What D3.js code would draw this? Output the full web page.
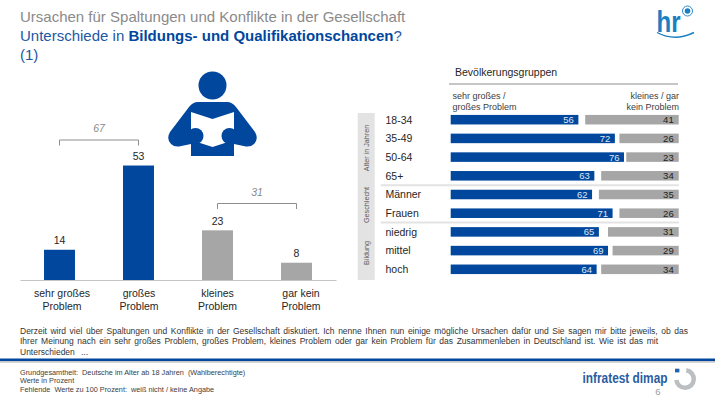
<!DOCTYPE html>
<html lang="de">
<head>
<meta charset="utf-8">
<title>Unterschiede in Bildungs- und Qualifikationschancen</title>
<script src="https://d3js.org/d3.v7.min.js"></script>
<style>
  html, body { margin: 0; padding: 0; background: #fff; }
  svg { display: block; }
  text { font-family: "Liberation Sans", Arial, sans-serif; }
</style>
</head>
<body>
<svg id="chart" width="715" height="403"></svg>
<script>
// Overall answers
const answerCategories = [["sehr großes", "Problem"], ["großes", "Problem"], ["kleines", "Problem"], ["gar kein", "Problem"]];
const answerValues = [14, 53, 23, 8];
const answerColors = ["#00479d", "#00479d", "#a6a6a6", "#a6a6a6"];

// Summed answers shown above the brackets
const bracketTotals = [67, 31];

// Population groups
const groupLabels = ["18-34", "35-49", "50-64", "65+", "Männer", "Frauen", "niedrig", "mittel", "hoch"];
const bigProblemValues = [56, 72, 76, 63, 62, 71, 65, 69, 64];
const smallProblemValues = [41, 26, 23, 34, 35, 26, 31, 29, 34];
const sideSections = [
  { label: "Alter in Jahren", first: 0, last: 3 },
  { label: "Geschlecht", first: 4, last: 5 },
  { label: "Bildung", first: 6, last: 8 }
];

const BLUE = "#00479d", GREY = "#a6a6a6", TITLE_GREY = "#8a8a8a", TEXT = "#262626";
const svg = d3.select("#chart");

// Heading
const heading = svg.append("g");
heading.append("text").attr("x", 20).attr("y", 21.5).attr("font-size", 15).attr("fill", TITLE_GREY)
  .text("Ursachen für Spaltungen und Konflikte in der Gesellschaft");
const subline = heading.append("text").attr("x", 20).attr("y", 41).attr("font-size", 15).attr("fill", "#1d58a4");
subline.append("tspan").text("Unterschiede in ");
subline.append("tspan").attr("font-weight", "bold").attr("fill", BLUE).text("Bildungs- und Qualifikationschancen");
subline.append("tspan").text("?");
heading.append("text").attr("x", 20).attr("y", 60).attr("font-size", 15).attr("fill", "#1d58a4").text("(1)");

// hr logo
const hr = svg.append("g").attr("fill", "#1b7fc3");
hr.append("text").attr("x", 656.5).attr("y", 32).attr("font-size", 30).attr("font-family", "Open Sans")
  .attr("font-weight", 600).attr("textLength", 24).attr("lengthAdjust", "spacingAndGlyphs").text("hr");
hr.append("path").attr("d", "M657,32.5 Q675,42 694,32.5").attr("fill", "none").attr("stroke", "#1b7fc3").attr("stroke-width", 1.4);
hr.append("circle").attr("cx", 687.5).attr("cy", 11).attr("r", 5).attr("fill", "none").attr("stroke", "#1b7fc3").attr("stroke-width", 0.9);
hr.append("circle").attr("cx", 687.5).attr("cy", 11).attr("r", 2.8);

// Reading figure
const reader = svg.append("g");
reader.append("circle").attr("cx", 212.5).attr("cy", 85.5).attr("r", 14).attr("fill", BLUE);
reader.append("path").attr("fill", BLUE)
  .attr("d", "M198,102 L227,102 Q232,102 236,107 L255,132 Q259,139 254,144 Q251,147 246,146.5 L234,144 L234,156 L191,156 L191,144 L179,146.5 Q174,147 171,144 Q166,139 170,132 L189,107 Q193,102 198,102Z");
reader.append("path").attr("fill", "#fff")
  .attr("d", "M191,112 L212.5,119 L234,112 L234,132 L228,142 L212.5,147 L197,142 L191,132Z");
reader.append("circle").attr("cx", 195.5).attr("cy", 136).attr("r", 8).attr("fill", BLUE);
reader.append("circle").attr("cx", 229.5).attr("cy", 136).attr("r", 8).attr("fill", BLUE);

// Left column chart
const xAnswer = d3.scaleBand().domain(d3.range(answerValues.length)).range([20, 336])
  .paddingInner(0.608).paddingOuter(0.304);
const yAnswer = d3.scaleLinear().domain([0, 60]).range([280, 150.4]);

const columns = svg.append("g");
columns.selectAll("rect").data(answerValues).join("rect")
  .attr("x", (d, i) => xAnswer(i))
  .attr("y", d => yAnswer(d))
  .attr("width", xAnswer.bandwidth())
  .attr("height", d => yAnswer(0) - yAnswer(d))
  .attr("fill", (d, i) => answerColors[i]);
columns.selectAll("text").data(answerValues).join("text")
  .attr("x", (d, i) => xAnswer(i) + xAnswer.bandwidth() / 2)
  .attr("y", d => yAnswer(d) - 5.5)
  .attr("text-anchor", "middle").attr("font-size", 10.5).attr("fill", TEXT)
  .text(d => d);

// Category labels sit slightly off the column centres
const labelShift = [2.5, 0.5, 0, 4.5];
const axis = svg.append("g").attr("transform", "translate(0,280)")
  .call(d3.axisBottom(xAnswer).tickSize(0).tickPadding(0).tickFormat(""));
axis.select(".domain").attr("stroke", "#c4c4c4").attr("stroke-width", 1.2);
axis.selectAll(".tick text").each(function (i) {
  const label = d3.select(this).attr("y", 0).attr("dy", 0).attr("font-size", 10.5).attr("fill", TEXT)
    .attr("font-family", "Liberation Sans");
  answerCategories[i].forEach((line, k) => {
    label.append("tspan").attr("x", labelShift[i]).attr("y", 17 + k * 13).text(line);
  });
});

// Brackets summing two columns
const bracketPairs = [[0, 1], [2, 3]];
const bracketY = [140, 203.5];
const bracketLabelY = [131.5, 195.5];
bracketPairs.forEach((pair, k) => {
  const x0 = xAnswer(pair[0]) + xAnswer.bandwidth() / 2;
  const x1 = xAnswer(pair[1]) + xAnswer.bandwidth() / 2;
  const p = d3.path();
  p.moveTo(x0, bracketY[k] + 5.5);
  p.lineTo(x0, bracketY[k]);
  p.lineTo(x1, bracketY[k]);
  p.lineTo(x1, bracketY[k] + 5.5);
  svg.append("path").attr("d", p.toString()).attr("fill", "none").attr("stroke", "#8e8e8e").attr("stroke-width", 1);
  svg.append("text").attr("x", (x0 + x1) / 2).attr("y", bracketLabelY[k]).attr("text-anchor", "middle")
    .attr("font-size", 10.5).attr("font-style", "italic").attr("fill", "#8a8a8a").text(bracketTotals[k]);
});

// Right panel: population groups
const xShare = d3.scaleLinear().domain([0, 100]).range([0, 228]);
const yGroup = d3.scaleBand().domain(groupLabels).range([110.35, 278.65]).paddingInner(0.49).paddingOuter(0.245);
const barLeft = 450.7, barRight = 678.7;

svg.append("text").attr("x", 455).attr("y", 75.5).attr("font-size", 10.5).attr("fill", TEXT).text("Bevölkerungsgruppen");
svg.append("line").attr("x1", 449).attr("x2", 678).attr("y1", 84).attr("y2", 84).attr("stroke", "#b3b3b3").attr("stroke-width", 1.6);

const headLeft = svg.append("text").attr("font-size", 9).attr("fill", "#404040");
["sehr großes /", "großes Problem"].forEach((t, i) => headLeft.append("tspan").attr("x", 452.5).attr("y", 99 + i * 10.5).text(t));
const headRight = svg.append("text").attr("font-size", 9).attr("fill", "#404040").attr("text-anchor", "end");
["kleines / gar", "kein Problem"].forEach((t, i) => headRight.append("tspan").attr("x", 679).attr("y", 99 + i * 10.5).text(t));

// Side panel and dividers between sections
const sideTop = 113, sideBottom = 280;
svg.append("rect").attr("x", 357.7).attr("y", sideTop).attr("width", 17).attr("height", sideBottom - sideTop).attr("fill", "#e3e3e3");
const sideCenters = [148, 205, 253];
sideSections.forEach((s, i) => {
  svg.append("text")
    .attr("transform", `translate(369,${sideCenters[i]}) rotate(-90)`)
    .attr("text-anchor", "middle").attr("font-size", 7.2).attr("fill", "#595959").text(s.label);
  if (i > 0) {
    const y = yGroup(groupLabels[s.first]) - yGroup.step() * 0.245;
    svg.append("line").attr("x1", 380.7).attr("x2", 679).attr("y1", y).attr("y2", y).attr("stroke", "#e3e3e3").attr("stroke-width", 2);
  }
});

const rows = svg.append("g").selectAll("g").data(groupLabels).join("g")
  .attr("transform", d => `translate(0,${yGroup(d)})`);
const h = yGroup.bandwidth();
rows.append("text").attr("x", 385.5).attr("y", h / 2 + 3.8).attr("font-size", 10.5).attr("fill", TEXT).text(d => d);
rows.append("rect").attr("x", barLeft).attr("y", 0).attr("height", h)
  .attr("width", (d, i) => xShare(bigProblemValues[i])).attr("fill", BLUE);
rows.append("rect").attr("y", 0).attr("height", h)
  .attr("x", (d, i) => barRight - xShare(smallProblemValues[i]))
  .attr("width", (d, i) => xShare(smallProblemValues[i])).attr("fill", GREY);
rows.append("text").attr("x", (d, i) => barLeft + xShare(bigProblemValues[i]) - 4.5)
  .attr("y", h / 2 + 3.4).attr("text-anchor", "end").attr("font-size", 9.5).attr("fill", "#dfe8f4")
  .text((d, i) => bigProblemValues[i]);
rows.append("text").attr("x", barRight - 5)
  .attr("y", h / 2 + 3.4).attr("text-anchor", "end").attr("font-size", 9.5).attr("fill", "#222")
  .text((d, i) => smallProblemValues[i]);

// Question wording, each justified line stretched to its column width
const questionLines = [
  { text: "Derzeit wird viel über Spaltungen und Konflikte in der Gesellschaft diskutiert. Ich nenne Ihnen nun einige mögliche Ursachen dafür und Sie sagen mir bitte jeweils, ob das", end: 688 },
  { text: "Ihrer Meinung nach ein sehr großes Problem, großes Problem, kleines Problem oder gar kein Problem für das Zusammenleben in Deutschland ist. Wie ist das mit", end: 658 },
  { text: "Unterschieden ...", end: 88 }
];
questionLines.forEach((l, i) => {
  const t = svg.append("text").attr("x", 20).attr("y", 333.5 + i * 10.7).attr("font-size", 8.5).attr("fill", "#333").text(l.text);
  const gaps = l.text.split(" ").length - 1;
  const extra = (l.end - 20 - t.node().getComputedTextLength()) / gaps;
  t.attr("word-spacing", extra);
});

// Footer rule
svg.append("rect").attr("x", 0).attr("y", 358.5).attr("width", 715).attr("height", 2.6).attr("fill", BLUE);
svg.append("rect").attr("x", 0).attr("y", 361.1).attr("width", 715).attr("height", 1.6).attr("fill", "#c4c4c4");

// Survey notes
const noteLines = [
  "Grundgesamtheit:  Deutsche im Alter ab 18 Jahren  (Wahlberechtigte)",
  "Werte in Prozent",
  "Fehlende  Werte zu 100 Prozent:  weiß nicht / keine Angabe"
];
noteLines.forEach((t, i) => {
  svg.append("text").attr("x", 20).attr("y", 375 + i * 8.4).attr("font-size", 7.3).attr("fill", "#404040")
    .style("white-space", "pre").text(t);
});

// Institute mark
svg.append("text").attr("x", 582.5).attr("y", 383).attr("font-size", 14).attr("font-family", "Open Sans")
  .attr("font-weight", 600).attr("fill", "#2a5c9f").attr("textLength", 85).attr("lengthAdjust", "spacingAndGlyphs").text("infratest dimap");
svg.append("text").attr("x", 658).attr("y", 395).attr("text-anchor", "middle").attr("font-size", 9.5).attr("fill", "#9a9a9a").text("6");
const ring = d3.arc().innerRadius(6.5).outerRadius(11).startAngle(0.15).endAngle(4.6);
svg.append("path").attr("transform", "translate(685,379)").attr("d", ring()).attr("fill", "#bcbfc2");
svg.append("rect").attr("x", 675).attr("y", 368.7).attr("width", 4.4).attr("height", 3.7).attr("fill", "#1f62ad");
</script>
</body>
</html>
